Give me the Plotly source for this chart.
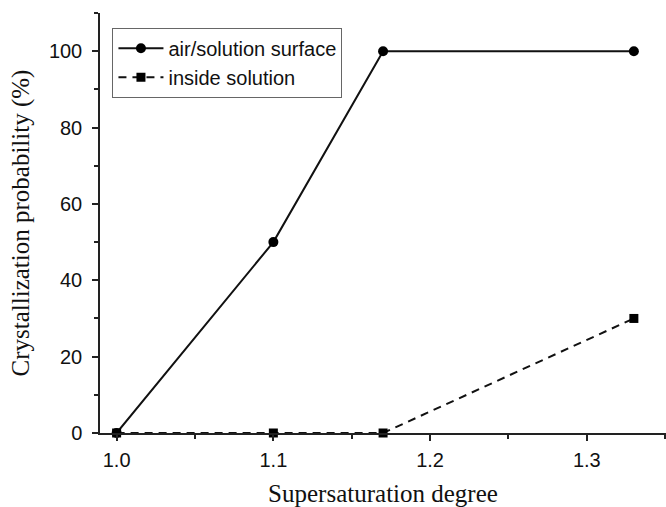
import plotly.graph_objects as go

x_air = [1.0, 1.1, 1.17, 1.33]
y_air = [0, 50, 100, 100]
x_inside = [1.0, 1.1, 1.17, 1.33]
y_inside = [0, 0, 0, 30]
x_ticks = [1.0, 1.1, 1.2, 1.3]
y_ticks = [0, 20, 40, 60, 80, 100]

fig = go.Figure()
fig.add_trace(go.Scatter(
    x=x_air, y=y_air, mode="lines+markers", name="air/solution surface",
    line=dict(color="#111111", width=2),
    marker=dict(symbol="circle", size=10, color="#000000"),
    cliponaxis=False,
))
fig.add_trace(go.Scatter(
    x=x_inside, y=y_inside, mode="lines+markers", name="inside solution",
    line=dict(color="#111111", width=2, dash="8px,6px"),
    marker=dict(symbol="square", size=9, color="#000000"),
    cliponaxis=False,
))

fig.update_layout(
    width=666, height=507,
    margin=dict(l=100, r=0, t=13, b=74),
    paper_bgcolor="white", plot_bgcolor="white",
    showlegend=True,
    legend=dict(
        x=0.022, y=0.965, xanchor="left", yanchor="top",
        bgcolor="white", bordercolor="#666666", borderwidth=1,
        font=dict(family="Liberation Sans, Arial", size=20, color="#111111"),
        tracegroupgap=0, itemwidth=45,
    ),
    font=dict(family="Liberation Sans, Arial", color="#111111"),
)

fig.update_xaxes(
    range=[0.9894, 1.3505], tickvals=x_ticks, ticktext=[f"{v:.1f}" for v in x_ticks],
    showgrid=False, zeroline=False, showline=True, linecolor="#222222", linewidth=1.5,
    ticks="outside", ticklen=6, tickwidth=1.5, tickcolor="#222222",
    minor=dict(ticks="outside", ticklen=4, tickwidth=1.5, tickcolor="#222222", dtick=0.05, tick0=1.0, showgrid=False),
    tickfont=dict(family="Liberation Sans, Arial", size=20, color="#111111"),
    ticklabelstandoff=2,
    title=dict(text="Supersaturation degree", standoff=16,
               font=dict(family="Liberation Serif, Times New Roman", size=25, color="#111111")),
)
fig.update_yaxes(
    range=[0, 110], tickvals=y_ticks,
    showgrid=False, zeroline=False, showline=True, linecolor="#222222", linewidth=1.5,
    ticks="outside", ticklen=6, tickwidth=1.5, tickcolor="#222222",
    minor=dict(ticks="outside", ticklen=4, tickwidth=1.5, tickcolor="#222222", dtick=10, tick0=0, showgrid=False),
    tickfont=dict(family="Liberation Sans, Arial", size=20, color="#111111"),
    ticklabelstandoff=6,
    title=dict(text="Crystallization probability (%)", standoff=12,
               font=dict(family="Liberation Serif, Times New Roman", size=25, color="#111111")),
)

fig.write_html("out.html")
